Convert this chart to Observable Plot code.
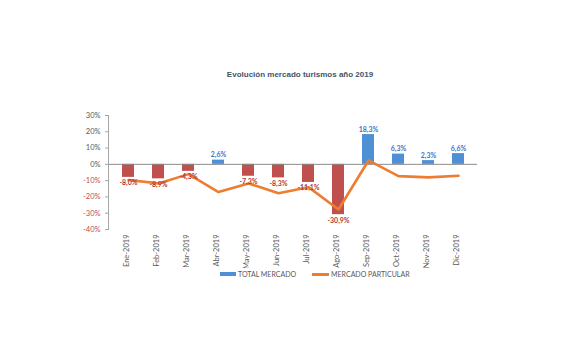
<!DOCTYPE html>
<html><head><meta charset="utf-8">
<script src="https://cdn.jsdelivr.net/npm/d3@7"></script>
<script src="https://cdn.jsdelivr.net/npm/@observablehq/plot@0.6"></script>
<style>
html,body{margin:0;padding:0;background:#fff;}
#wrap{position:relative;width:588px;height:353px;overflow:hidden;font-family:"Liberation Sans",Arial,sans-serif;}
#title{position:absolute;top:70px;left:0;width:600px;text-align:center;font-weight:bold;font-size:8px;color:#44546A;}
#chart{position:absolute;top:100px;left:0;}
#legend{position:absolute;top:270px;left:220px;font-family:Lato,"Liberation Sans",sans-serif;font-size:7px;color:#595959;display:flex;align-items:center;}
.sw{display:inline-block;margin-right:2px;}
</style></head>
<body><div id="wrap">
<div id="title">Evolución mercado turismos año 2019</div>
<div id="chart"></div>
<div id="legend"><span class="sw" style="width:16px;height:4px;background:#4F8FD6"></span><span>TOTAL MERCADO</span><span class="sw" style="width:17px;height:3px;background:#ED7D31;margin-left:16px"></span><span>MERCADO PARTICULAR</span></div>
</div>
<script>
const months = ["Ene-2019","Feb-2019","Mar-2019","Abr-2019","May-2019","Jun-2019","Jul-2019","Ago-2019","Sep-2019","Oct-2019","Nov-2019","Dic-2019"];
const totalMercado = [-8.0,-8.9,-4.3,2.6,-7.3,-8.3,-11.1,-30.9,18.3,6.3,2.3,6.6];
const mercadoParticular = [-9.6,-11.7,-6.0,-17.0,-11.7,-17.7,-14.0,-27.7,2.4,-7.2,-8.0,-7.0];
const yTicks = [30,20,10,0,-10,-20,-30,-40];

const RED = "#C0504D", BLUE = "#4F8FD6", ORANGE = "#ED7D31";
const data = months.map((m,i)=>({m, t: totalMercado[i], p: mercadoParticular[i]}));
const neg = data.filter(d => d.t < 0), pos = data.filter(d => d.t >= 0);
const fmt = v => v.toFixed(1).replace(".", ",") + "%";

const chart = Plot.plot({
  width: 588, height: 168,
  marginTop: 15, marginBottom: 39, marginLeft: 108, marginRight: 111,
  style: {fontFamily: "Lato, 'Liberation Sans', sans-serif", background: "transparent"},
  x: {type: "band", domain: months, paddingInner: 0.6, paddingOuter: 0.3, label: null, axis: null},
  y: {domain: [-40, 30], nice: false, label: null, axis: null},
  marks: [
    Plot.barY(data, {x: "m", y: "t", fill: d => d.t < 0 ? RED : BLUE}),
    Plot.ruleY([0], {stroke: "#8c8c8c", strokeWidth: 1}),
    Plot.frame({anchor: "left", stroke: "#a6a6a6"}),
    Plot.axisY({ticks: yTicks, tickSize: 3, tickFormat: () => "", stroke: "#a6a6a6"}),
    Plot.text(yTicks, {y: d => d, frameAnchor: "left", dx: -8, textAnchor: "end", text: d => d + "%", fill: d => d < 0 ? RED : "#595959", fontSize: 7.5}),
    Plot.text(months, {x: d => d, frameAnchor: "bottom", dy: 5, rotate: -90, textAnchor: "end", text: d => d, fill: "#595959", fontSize: 7.5}),
    Plot.lineY(data, {x: "m", y: "p", stroke: ORANGE, strokeWidth: 2.6, strokeLinejoin: "round"}),
    Plot.text(neg, {x: "m", y: "t", text: d => fmt(d.t), fill: "#B03A37", fontSize: 7, fontWeight: "bold", lineAnchor: "top", dy: 3}),
    Plot.text(pos, {x: "m", y: "t", text: d => fmt(d.t), fill: "#4472C4", fontSize: 7, fontWeight: "bold", lineAnchor: "bottom", dy: -3}),
  ]
});
document.getElementById("chart").appendChild(chart);
</script>
</body></html>
